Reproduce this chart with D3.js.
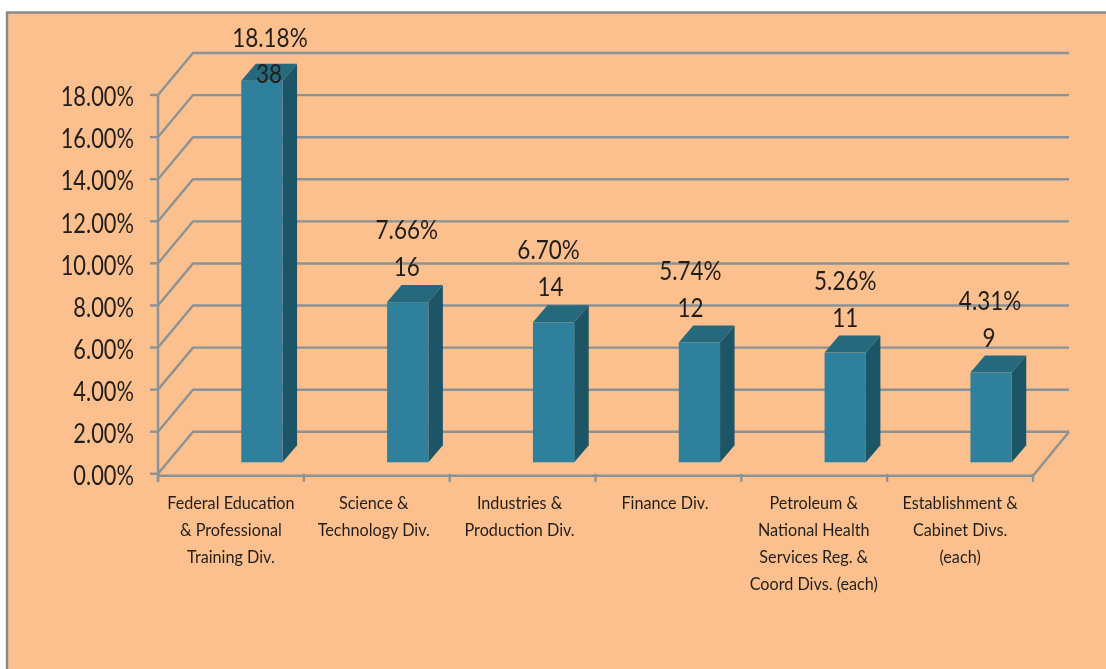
<!DOCTYPE html>
<html><head><meta charset="utf-8">
<script src="https://cdn.jsdelivr.net/npm/d3@7"></script>
<style>html,body{margin:0;padding:0;background:#fff}svg{display:block}text{font-family:Lato,"Open Sans",sans-serif;fill:#231f1c}</style>
</head><body><svg id="c" width="1106" height="669"></svg>
<script>
const categories=[
 ["Federal Education","& Professional","Training Div."],
 ["Science &","Technology Div."],
 ["Industries &","Production Div."],
 ["Finance Div."],
 ["Petroleum &","National Health","Services Reg. &","Coord Divs. (each)"],
 ["Establishment &","Cabinet Divs.","(each)"]];
const percents=[18.18,7.66,6.70,5.74,5.26,4.31];
const counts=[38,16,14,12,11,9];
const yTicks=[0,2,4,6,8,10,12,14,16,18];

const W=1106,H=669;
const svg=d3.select("#c");
const defs=svg.append("defs");
defs.append("filter").attr("id","soft").attr("x","-5%").attr("y","-5%").attr("width","110%").attr("height","110%")
  .append("feGaussianBlur").attr("stdDeviation",0.55);
const root=svg.append("g").attr("filter","url(#soft)");

// panel
root.append("rect").attr("x",7).attr("y",12.5).attr("width",W+20).attr("height",H+20)
  .attr("fill","#fbc08e").attr("stroke","#85898c").attr("stroke-width",2.4);

const x=d3.scaleBand().domain(d3.range(categories.length)).range([158,1033]);
const y=d3.scaleLinear().domain([0,18]).range([473.8,95]);
const wallDx=35,wallDy=-42, wallEnd=1069, floorDrop=2;
const grid="#8b9296";

// gridlines: back wall + side wall
const g=root.append("g").attr("fill","none").attr("stroke",grid).attr("stroke-width",2.4);
yTicks.forEach(t=>{
  const p=d3.path();
  p.moveTo(x.range()[0],y(t));
  p.lineTo(x.range()[0]+wallDx,y(t)+wallDy);
  p.lineTo(wallEnd,y(t)+wallDy);
  g.append("path").attr("d",p);
  g.append("line").attr("x1",x.range()[0]-8).attr("x2",x.range()[0]).attr("y1",y(t)).attr("y2",y(t));
});
// floor
const fl=d3.path();
fl.moveTo(x.range()[0],y(0)+floorDrop);fl.lineTo(x.range()[1],y(0)+floorDrop);fl.lineTo(wallEnd,y(0)+wallDy);
g.append("path").attr("d",fl);
g.append("line").attr("x1",x.range()[0]).attr("x2",x.range()[0]).attr("y1",y(18)).attr("y2",y(0)+8);
x.domain().concat([categories.length]).forEach(i=>{
  const xx=i<categories.length?x(i):x.range()[1];
  g.append("line").attr("x1",xx).attr("x2",xx).attr("y1",y(0)).attr("y2",y(0)+8);
});

// bars
const barW=41.3,sideDx=14.5,sideDy=-17,baseLift=11.5,barShift=31;
const bars=root.append("g");
const barTop=v=>y(v)-baseLift+1;
percents.forEach((v,i)=>{
  const x0=x(i)+(x.bandwidth()-barW)/2+barShift;
  const x1=x0+barW;
  const yb=y(0)-baseLift, yt=barTop(v);
  bars.append("path").attr("fill","#1f5466")
    .attr("d",`M${x1},${yt}L${x1+sideDx},${yt+sideDy}L${x1+sideDx},${yb+sideDy}L${x1},${yb}Z`);
  bars.append("path").attr("fill","#25677b")
    .attr("d",`M${x0},${yt}L${x0+sideDx},${yt+sideDy}L${x1+sideDx},${yt+sideDy}L${x1},${yt}Z`);
  bars.append("rect").attr("x",x0).attr("y",yt).attr("width",barW).attr("height",yb-yt).attr("fill","#2f809c");
});

function label(sel,xx,yy,str,size,sx){
  return sel.append("text").attr("text-anchor","middle").attr("dominant-baseline","central")
    .attr("transform",`translate(${xx},${yy}) scale(${sx},1)`).attr("font-size",size).text(str);
}
// y tick labels
const tl=root.append("g");
yTicks.forEach(t=>{
  tl.append("text").attr("text-anchor","end").attr("dominant-baseline","central")
    .attr("transform",`translate(134,${y(t)+1}) scale(0.84,1)`).attr("font-size",26)
    .text(d3.format(".2f")(t)+"%");
});
// category labels (manual placement offsets seen in the reference)
const catNudge=[0,-3,-3,-3.5,-0.5,0];
const cl=root.append("g");
categories.forEach((lines,i)=>{
  lines.forEach((s,j)=>label(cl,x(i)+x.bandwidth()/2+catNudge[i],502+j*27,s,18,0.9));
});
// data labels (hand-moved in the reference)
const countNudge=[38,30,28,22,31,29];
const pctNudge=[39,30,26,22,31,30];
const dl=root.append("g");
percents.forEach((v,i)=>{
  const c=x(i)+x.bandwidth()/2;
  const yt=barTop(v);
  const lift=i===0?8:36;
  const liftP=i===0?44:73;
  label(dl,c+countNudge[i],yt-lift,counts[i],26,0.865);
  label(dl,c+pctNudge[i],yt-liftP,d3.format(".2f")(v)+"%",26,0.865);
});
</script></body></html>
